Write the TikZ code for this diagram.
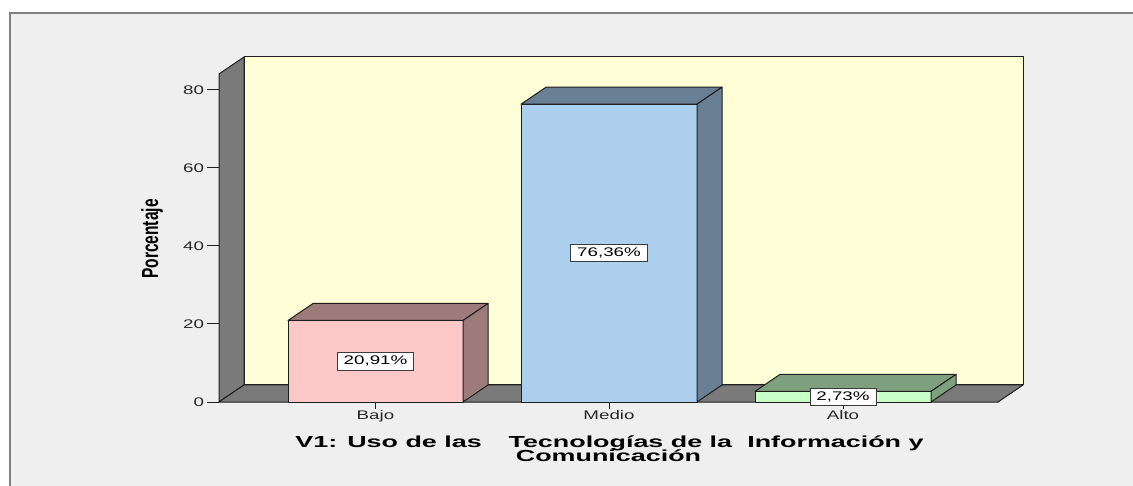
\documentclass[tikz,border=0pt]{standalone}
\usepackage{fontspec}
\setmainfont{Liberation Sans}
\usepackage{graphicx}

% the chart is stretched sideways, so is its text
\newcommand{\stretchx}[2][1.5]{\scalebox{#1}[1]{#2}}

\definecolor{panelgray}{RGB}{239,239,239}
\definecolor{framegray}{RGB}{128,128,128}
\definecolor{wallyellow}{RGB}{255,255,215}
\definecolor{walldark}{RGB}{122,122,122}
\definecolor{bajofront}{RGB}{255,200,200}
\definecolor{bajoside}{RGB}{158,123,123}
\definecolor{mediofront}{RGB}{173,207,238}
\definecolor{medioside}{RGB}{104,127,148}
\definecolor{altofront}{RGB}{200,255,200}
\definecolor{altoside}{RGB}{127,160,127}

\tikzset{
  edge/.style={draw={rgb,255:red,30;green,30;blue,30}, line width=1pt, line join=round},
  ticklabel/.style={inner sep=0.75pt, font=\fontsize{12.5}{14}\selectfont, text={rgb,255:red,40;green,40;blue,40}},
  valbox/.style={draw={rgb,255:red,60;green,60;blue,60}, fill=white, line width=0.8pt,
    inner xsep=6.5pt, inner ysep=3pt, text height=9pt, text depth=2.5pt,
    font=\fontsize{12.5}{14}\selectfont},
}

\begin{document}
\begin{tikzpicture}[x=1pt,y=1pt,yscale=-1,xscale=1]
\useasboundingbox (0,0) rectangle (1133,486);
\fill[white] (0,0) rectangle (1133,486);

%Shape: Rectangle (panel)
\draw [color=framegray, line width=1.6pt, fill=panelgray] (10,13) rectangle (1145,500);

%Shape: Rectangle (back wall)
\draw [edge, fill=wallyellow] (244,57) rectangle (1023,385);
%Shape: Polygon (left wall)
\draw [edge, fill=walldark] (219,402) -- (219,74) -- (244,57) -- (244,385) -- cycle;
%Shape: Polygon (floor)
\draw [edge, fill=walldark] (219,402) -- (244,385) -- (1023,385) -- (998,402) -- cycle;

%Straight Lines (value ticks)
\draw [edge] (207,402) -- (219,402) ;
\draw [edge] (207,324) -- (219,324) ;
\draw [edge] (207,246) -- (219,246) ;
\draw [edge] (207,168) -- (219,168) ;
\draw [edge] (207,90) -- (219,90) ;

%Shape: Bar Bajo
\draw [edge, fill=bajofront] (288,320.5) rectangle (463,402);
\draw [edge, fill=bajoside] (288,320.5) -- (313,303.5) -- (488,303.5) -- (463,320.5) -- cycle;
\draw [edge, fill=bajoside] (463,402) -- (463,320.5) -- (488,303.5) -- (488,385) -- cycle;
%Shape: Bar Medio
\draw [edge, fill=mediofront] (521,104.2) rectangle (697,402);
\draw [edge, fill=medioside] (521,104.2) -- (546,87.2) -- (722,87.2) -- (697,104.2) -- cycle;
\draw [edge, fill=medioside] (697,402) -- (697,104.2) -- (722,87.2) -- (722,385) -- cycle;
%Shape: Bar Alto
\draw [edge, fill=altofront] (755,391.4) rectangle (931,402);
\draw [edge, fill=altoside] (755,391.4) -- (780,374.4) -- (956,374.4) -- (931,391.4) -- cycle;
\draw [edge, fill=altoside] (931,402) -- (931,391.4) -- (956,374.4) -- (956,385) -- cycle;

%Straight Lines (category ticks)
\draw [edge] (375.5,402) -- (375.5,409) ;
\draw [edge] (609,402) -- (609,409) ;
\draw [edge] (843,402) -- (843,409) ;

% Text Node
\node [ticklabel, anchor=east] (lab0) at (205,402) {\stretchx{0}};
% Text Node
\node [ticklabel, anchor=east] (lab20) at (205,324) {\stretchx{20}};
% Text Node
\node [ticklabel, anchor=east] (lab40) at (205,246) {\stretchx{40}};
% Text Node
\node [ticklabel, anchor=east] (lab60) at (205,168) {\stretchx{60}};
% Text Node
\node [ticklabel, anchor=east] (lab80) at (205,90) {\stretchx{80}};

% Text Node
\node [ticklabel, anchor=north] (catbajo) at (375.5,409) {\stretchx{Bajo}};
% Text Node
\node [ticklabel, anchor=north] (catmedio) at (609,409) {\stretchx{Medio}};
% Text Node
\node [ticklabel, anchor=north] (catalto) at (843,409) {\stretchx{Alto}};

% Text Node
\node [valbox] (valbajo) at (375.5,361.3) {\stretchx{20,91\%}};
% Text Node
\node [valbox] (valmedio) at (609,253.1) {\stretchx{76,36\%}};
% Text Node
\node [valbox] (valalto) at (843,397) {\stretchx{2,73\%}};

% Text Node
\node [inner sep=0pt, font=\fontsize{15.5}{16}\bfseries] (ytitle) at (152,239)
  {\stretchx{\rotatebox{90}{Porcentaje}}};
% Text Node
\node [inner sep=0pt, anchor=base, font=\fontsize{16}{16}\bfseries] (xtitle1) at (609.5,447)
  {\stretchx[1.68]{V1: Uso de las\hspace{16pt}Tecnologías de la\hspace{9pt}Información y}};
% Text Node
\node [inner sep=0pt, anchor=base, font=\fontsize{16}{16}\bfseries] (xtitle2) at (608.5,461)
  {\stretchx[1.68]{Comunicación}};

\end{tikzpicture}
\end{document}
